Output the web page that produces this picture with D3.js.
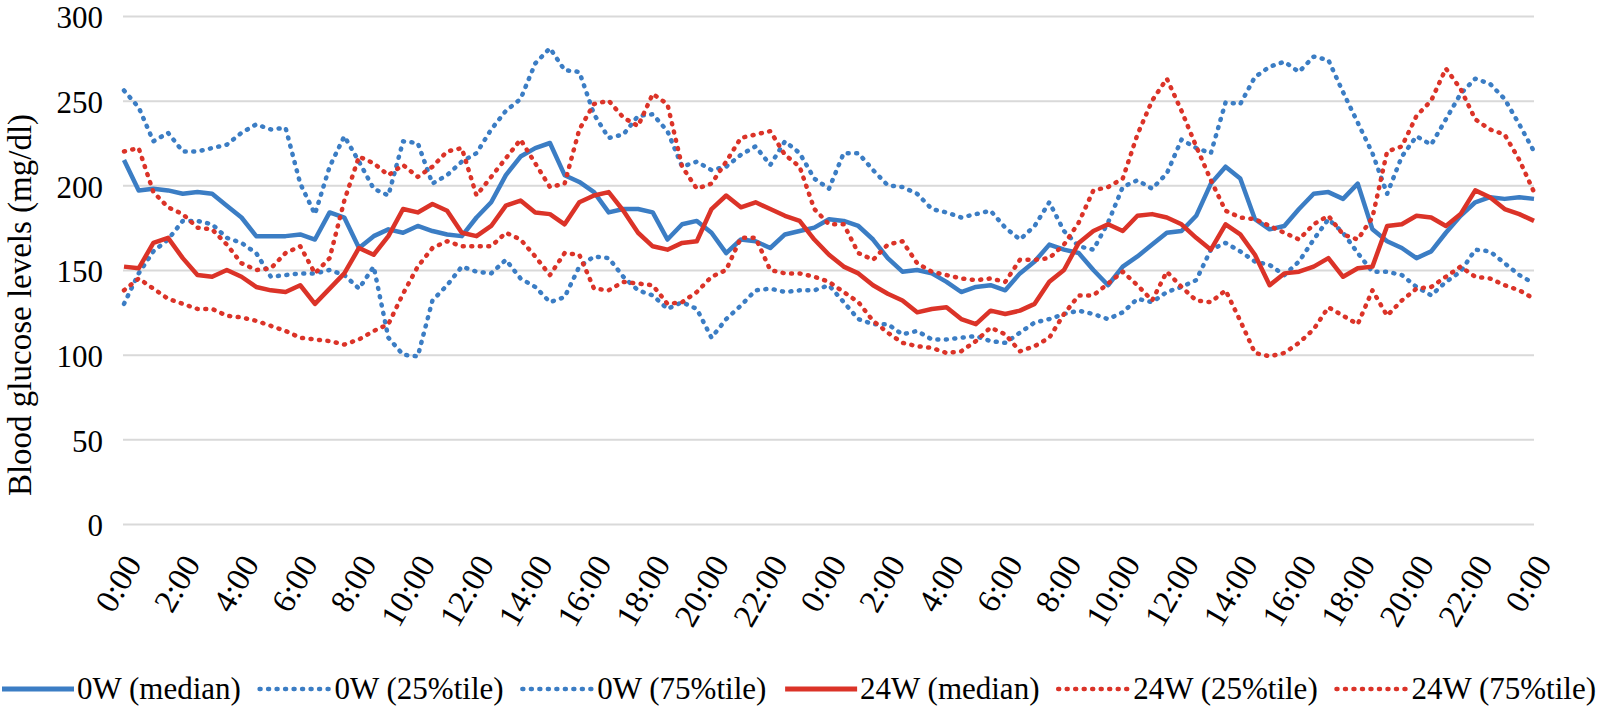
<!DOCTYPE html>
<html><head><meta charset="utf-8">
<script src="https://cdn.jsdelivr.net/npm/d3@7"></script>
<style>body{margin:0;background:#fff;} svg{display:block;}</style>
</head><body>
<svg id="chart" width="1600" height="708"></svg>
<script>
// ---- data (blood glucose, mg/dl, every 30 min over 48 h) ----
const tickLabels = ["0:00","2:00","4:00","6:00","8:00","10:00","12:00","14:00","16:00","18:00","20:00","22:00",
                    "0:00","2:00","4:00","6:00","8:00","10:00","12:00","14:00","16:00","18:00","20:00","22:00","0:00"];
const tickHours = [0,2,4,6,8,10,12,14,16,18,20,22,24,26,28,30,32,34,36,38,40,42,44,46,48];
const yTicks = [0,50,100,150,200,250,300];
const hours = d3.range(0, 48.25, 0.5);

const med0W = [215,197,198,197,195,196,195,188,181,170,
  170,170,171,168,184,181,163,170,174,172,
  176,173,171,170,181,190,206,217,222,225,
  206,202,196,184,186,186,184,168,177,179,
  172,160,168,167,163,171,173,175,180,179,
  176,168,157,149,150,148,143,137,140,141,
  138,148,155,165,162,160,150,141,152,158,
  165,172,173,182,201,211,204,180,174,176,
  186,195,196,192,201,174,167,163,157,161,
  172,182,190,193,192,193,192];
const p25_0W = [130,148,161,168,179,179,177,169,166,160,
  146,147,148,148,150,147,139,152,110,100,
  99,132,141,152,149,148,156,145,140,131,
  134,152,158,157,146,138,135,127,131,127,
  110,121,129,138,139,137,138,138,141,131,
  121,118,118,112,114,109,109,110,111,108,
  107,113,119,121,124,126,124,121,125,133,
  131,137,140,144,162,166,161,155,153,147,
  155,168,180,172,160,149,149,147,140,135,
  143,149,162,161,154,147,142];
const p75_0W = [256,246,226,231,220,220,222,224,231,236,
  233,234,201,183,211,229,214,198,194,226,
  225,201,206,214,219,233,244,251,272,281,
  268,267,242,228,230,241,242,232,211,214,
  209,211,218,223,212,226,219,204,198,219,
  219,209,200,199,195,186,184,181,183,185,
  175,168,176,190,173,164,162,178,199,203,
  198,207,227,222,219,249,248,264,270,273,
  267,276,274,255,237,219,195,217,229,224,
  239,254,263,260,251,236,220];
const med24W = [152,151,166,169,157,147,146,150,146,140,
  138,137,141,130,139,148,163,159,170,186,
  184,189,185,172,170,176,188,191,184,183,
  177,190,194,196,185,172,164,162,166,167,
  186,194,187,190,186,182,179,168,159,152,
  148,141,136,132,125,127,128,121,118,126,
  124,126,130,143,150,166,173,177,173,182,
  183,181,177,169,162,177,171,159,141,148,
  149,152,157,146,151,152,176,177,182,181,
  176,183,197,193,186,183,179];
const p25_24W = [138,145,139,133,130,127,127,123,122,120,
  117,114,110,109,108,106,109,114,118,136,
  152,163,167,164,164,164,172,168,158,147,
  160,159,139,138,143,142,141,130,131,137,
  146,150,169,169,150,148,148,146,143,137,
  131,120,113,107,105,104,101,102,108,116,
  112,102,105,110,124,135,135,142,149,141,
  132,149,140,132,131,138,120,101,99,101,
  107,115,128,123,118,138,123,132,139,140,
  146,152,146,145,141,138,133];
const p75_24W = [220,222,196,187,183,175,174,165,154,150,
  151,160,164,148,157,191,217,213,206,212,
  205,211,220,222,194,205,216,227,213,199,
  201,233,248,250,240,235,254,248,211,198,
  201,214,228,230,232,218,211,186,177,177,
  160,156,165,167,154,149,147,145,144,145,
  143,156,156,157,165,178,197,199,204,230,
  250,263,244,223,203,185,181,180,176,172,
  168,177,182,171,168,181,220,223,241,250,
  269,257,239,233,230,215,196];

const seriesNames = ["0W (median)","0W (25%tile)","0W (75%tile)","24W (median)","24W (25%tile)","24W (75%tile)"];
const seriesValues = [med0W, p25_0W, p75_0W, med24W, p25_24W, p75_24W];

// ---- styling ----
const BLUE = "#3b7dc4", RED = "#db3328";
const colors = [BLUE, BLUE, BLUE, RED, RED, RED];
const dotted = [false, true, true, false, true, true];
const FONT = "'Liberation Serif','Times New Roman',serif";

const svg = d3.select("#chart");
const x = d3.scaleLinear().domain([0, 48]).range([124, 1534]);
const y = d3.scaleLinear().domain([0, 300]).range([524, 16]);

// y axis with gridlines
const yAxis = svg.append("g").attr("transform", `translate(${x(0) - 1},0)`)
  .call(d3.axisLeft(y).tickValues(yTicks).tickSize(-(x(48) - x(0) + 1)).tickPadding(20));
yAxis.select(".domain").remove();
yAxis.selectAll(".tick line").attr("stroke", "#d9d9d9").attr("stroke-width", 2);
yAxis.selectAll(".tick text").attr("font-family", FONT).attr("font-size", 31).attr("fill", "#000")
  .attr("dy", "0.38em");

// x axis labels
const xAxis = svg.append("g").attr("transform", `translate(0,${y(0)})`)
  .call(d3.axisBottom(x).tickValues(tickHours).tickFormat((d, i) => tickLabels[i]).tickSize(0));
xAxis.select(".domain").remove();
xAxis.selectAll(".tick text")
  .attr("font-family", FONT).attr("font-size", 33).attr("fill", "#000")
  .attr("text-anchor", "end").attr("x", 0).attr("y", 0).attr("dy", "0.35em")
  .attr("transform", "translate(8,34) rotate(-60)");

// y title
svg.append("text").attr("transform", "translate(31,305) rotate(-90)")
  .attr("text-anchor", "middle").attr("font-family", FONT).attr("font-size", 33)
  .attr("fill", "#000").text("Blood glucose levels (mg/dl)");

// lines
const line = d3.line().x((d, i) => x(hours[i])).y(d => y(d));
seriesValues.forEach((vals, k) => {
  svg.append("path").datum(vals).attr("d", line)
    .attr("fill", "none").attr("stroke", colors[k])
    .attr("stroke-width", 4.5).attr("stroke-linejoin", "round")
    .attr("stroke-linecap", dotted[k] ? "round" : "butt")
    .attr("stroke-dasharray", dotted[k] ? "1,7.5" : null);
});

// legend
const leg = svg.append("g");
const LY = 689, SAMPLE = 72, FS = 31;
const items = seriesNames.map((name, k) => {
  const t = leg.append("text").attr("y", 699)
    .attr("font-family", FONT).attr("font-size", FS).attr("fill", "#000").text(name);
  return {k, t, w: t.node().getComputedTextLength()};
});
const totalText = d3.sum(items, d => d.w);
const gap = Math.max(4, (1596 - 2 - totalText - items.length * (SAMPLE + 3)) / (items.length - 1));
let cx = 2;
items.forEach(({k, t, w}) => {
  leg.append("line").attr("x1", cx).attr("x2", cx + SAMPLE).attr("y1", LY).attr("y2", LY)
    .attr("stroke", colors[k]).attr("stroke-width", dotted[k] ? 4.5 : 5)
    .attr("stroke-linecap", dotted[k] ? "round" : "butt")
    .attr("stroke-dasharray", dotted[k] ? "1,7.5" : null);
  t.attr("x", cx + SAMPLE + 3);
  cx += SAMPLE + 3 + w + gap;
});
</script>
</body></html>
